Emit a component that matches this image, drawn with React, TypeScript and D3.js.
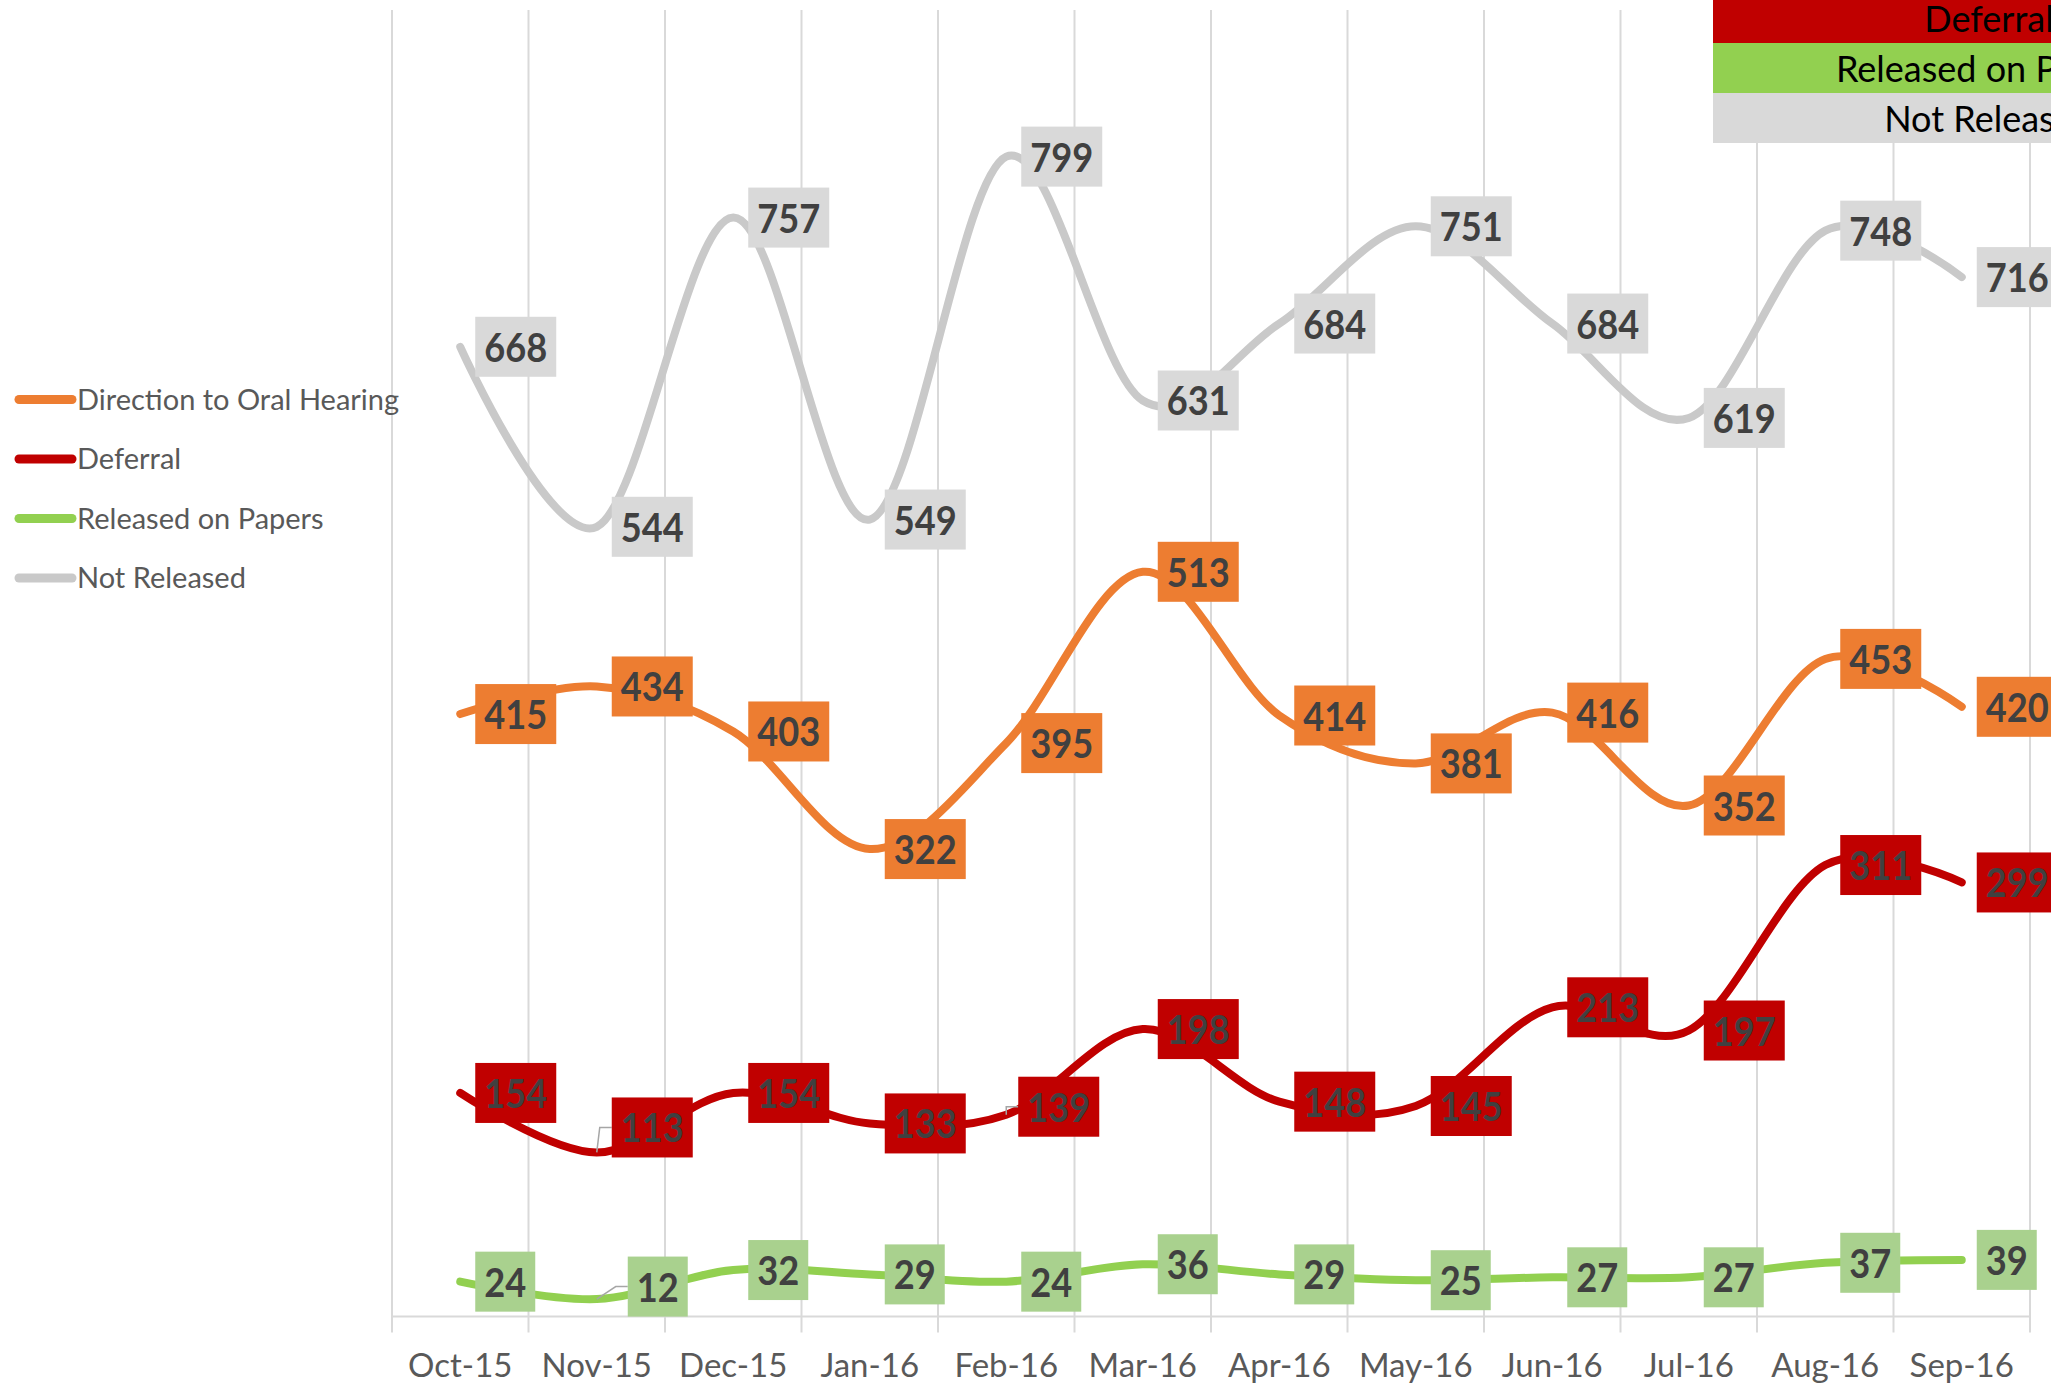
import React, { useEffect } from "react";
import * as d3 from "d3";

const categories = ["Oct-15", "Nov-15", "Dec-15", "Jan-16", "Feb-16", "Mar-16", "Apr-16", "May-16", "Jun-16", "Jul-16", "Aug-16", "Sep-16"];
const directionValues = [415, 434, 403, 322, 395, 513, 414, 381, 416, 352, 453, 420];
const deferralValues = [154, 113, 154, 133, 139, 198, 148, 145, 213, 197, 311, 299];
const papersValues = [24, 12, 32, 29, 24, 36, 29, 25, 27, 27, 37, 39];
const notReleasedValues = [668, 544, 757, 549, 799, 631, 684, 751, 684, 619, 748, 716];
const legendNames = ["Direction to Oral Hearing", "Deferral", "Released on Papers", "Not Released"];
const tableNames = ["Deferral", "Released on Papers", "Not Released"];

const W = 2051;
const H = 1385;
const PLOT_L = 392;
const PLOT_R = 2030;
const PLOT_T = 10;
const PLOT_B = 1316.5;

const series = [
  { name: legendNames[0], values: directionValues, line: "#ed7d31", box: "#ed7d31" },
  { name: legendNames[1], values: deferralValues, line: "#c00000", box: "#c00000" },
  { name: legendNames[2], values: papersValues, line: "#92d050", box: "#a9d18e" },
  { name: legendNames[3], values: notReleasedValues, line: "#c9c9c9", box: "#d9d9d9" },
];

// manual label moves (Excel-moved labels with leader lines), in px: [seriesIndex, pointIndex, dx, dy]
const labelNudges: [number, number, number, number][] = [
  [1, 1, 0, -25],
  [2, 1, 16, -12.5],
  [1, 4, -3, -8],
];

const tableColors = ["#c00000", "#92d050", "#d9d9d9"];

export default function App() {
  useEffect(() => {
    document.body.style.margin = "0";
  }, []);

  const x = d3.scaleBand<string>().domain(categories).range([PLOT_L, PLOT_R]);
  const y = d3.scaleLinear().domain([0, 900]).range([PLOT_B, PLOT_T]);
  const cx = (i: number) => (x(categories[i]) as number) + x.bandwidth() / 2;

  const line = d3
    .line<number>()
    .x((_, i) => cx(i))
    .y((d) => y(d))
    .curve(d3.curveCatmullRom.alpha(0));

  const boundaries = d3.range(categories.length + 1).map((i) => PLOT_L + i * x.bandwidth());

  const digitW = 21;
  const boxH = 60;

  return (
    <svg width={W} height={H} style={{ display: "block", background: "#fff" }} fontFamily="Lato, 'Open Sans', sans-serif">
      {/* gridlines */}
      {boundaries.map((bx, i) => (
        <line key={"g" + i} x1={bx} x2={bx} y1={PLOT_T} y2={PLOT_B + 16} stroke="#d9d9d9" strokeWidth={2} />
      ))}
      <line x1={PLOT_L} x2={PLOT_R} y1={PLOT_B} y2={PLOT_B} stroke="#d9d9d9" strokeWidth={2} />

      {/* x labels */}
      {categories.map((c, i) => (
        <text key={"xl" + i} x={cx(i)} y={1377} textAnchor="middle" fontSize={33} fill="#595959">
          {c}
        </text>
      ))}

      {/* lines */}
      {series.map((s, si) => (
        <path key={"l" + si} d={line(s.values) as string} fill="none" stroke={s.line} strokeWidth={8} strokeLinecap="round" strokeLinejoin="round" />
      ))}

      {/* labels */}
      {series.map((s, si) =>
        s.values.map((v, i) => {
          const px = cx(i);
          const py = y(v);
          const nudge = labelNudges.find((n) => n[0] === si && n[1] === i);
          const dx = nudge ? nudge[2] : 0;
          const dy = nudge ? nudge[3] : 0;
          const txt = String(v);
          const tw = txt.length * digitW;
          const bw = tw + 18;
          const bx = px + 15 + dx;
          const byc = py + dy;
          return (
            <g key={"lab" + si + "-" + i}>
              {nudge && (
                <path d={`M${px},${py} L${bx - 12},${byc} L${bx},${byc}`} fill="none" stroke="#a6a6a6" strokeWidth={1.5} />
              )}
              <rect x={bx} y={byc - boxH / 2} width={bw} height={boxH} fill={s.box} />
              <text
                x={bx + 9}
                y={byc + 15}
                fontSize={41}
                fontWeight="bold"
                fill="#404040"
                textLength={tw}
                lengthAdjust="spacingAndGlyphs"
              >
                {txt}
              </text>
            </g>
          );
        })
      )}

      {/* left legend */}
      {legendNames.map((n, i) => {
        const ly = 399.5 + i * 59.5;
        return (
          <g key={"leg" + i}>
            <line x1={19} x2={72} y1={ly} y2={ly} stroke={series[i].line} strokeWidth={9} strokeLinecap="round" />
            <text x={77} y={ly + 10} fontSize={29} fill="#595959">
              {n}
            </text>
          </g>
        );
      })}

      {/* top-right table */}
      {tableNames.map((n, i) => {
        const top = -7 + i * 50;
        return (
          <g key={"tb" + i}>
            <rect x={1713} y={top} width={560} height={50} fill={tableColors[i]} />
            <text x={1989} y={top + 39} textAnchor="middle" fontSize={36} fill="#000">
              {n}
            </text>
          </g>
        );
      })}
    </svg>
  );
}
